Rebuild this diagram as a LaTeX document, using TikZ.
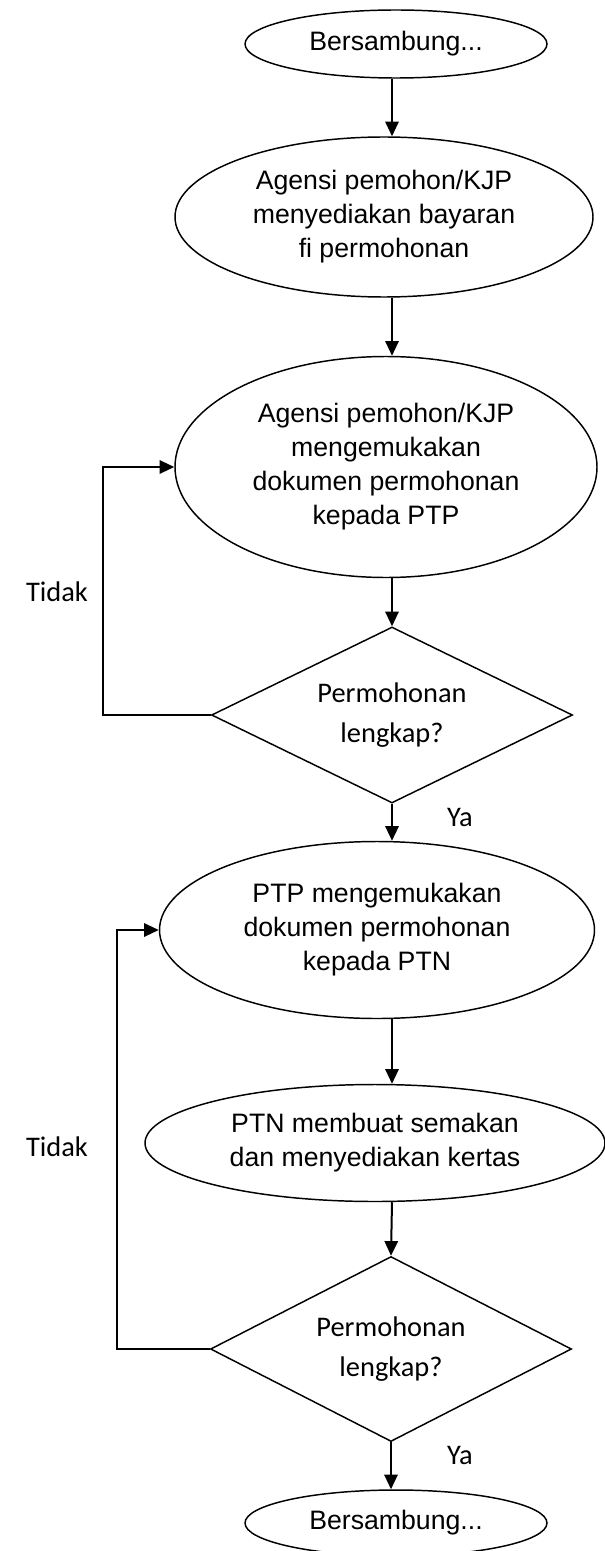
\documentclass[tikz,border=0pt]{standalone}
\usepackage{fontspec}
\setmainfont{Liberation Sans}
\newfontfamily\calibri{Carlito}
\usetikzlibrary{shapes.geometric,arrows.meta,positioning}

\begin{document}
\begin{tikzpicture}[x=0.75pt,y=-0.75pt,
  ovalstyle/.style={ellipse,draw,line width=1.1pt,inner sep=0pt,align=center,font={\fontsize{20}{25.5}\selectfont}},
  choicestyle/.style={diamond,draw,line width=1.1pt,inner sep=0pt,aspect=2,align=center,font={\calibri\fontsize{21.3}{30}\selectfont}},
  notestyle/.style={font={\calibri\fontsize{21.3}{30}\selectfont}},
  arrowstyle/.style={line width=1.5pt,-{Triangle[length=11pt,width=10pt]}}]

  \useasboundingbox (0,0) rectangle (605,1551);
  \coordinate (spine) at (392,0);
  \coordinate (back1) at (103,0);
  \coordinate (back2) at (117,0);

  \node [ovalstyle, minimum width=302*0.75pt, minimum height=68*0.75pt] (start) at (396,44) {Bersambung...};
  \node [ovalstyle, minimum width=418*0.75pt, minimum height=160*0.75pt] (pay) at (384,217) {Agensi pemohon/KJP\\menyediakan bayaran\\fi permohonan};
  \node [ovalstyle, minimum width=422*0.75pt, minimum height=221*0.75pt] (submit) at (386,467) {Agensi pemohon/KJP\\mengemukakan\\dokumen permohonan\\kepada PTP};
  \node [choicestyle, minimum width=361*0.75pt, minimum height=176*0.75pt] (check1) at (392,715) {Permohonan\\lengkap?};
  \node [ovalstyle, minimum width=435*0.75pt, minimum height=177*0.75pt] (forward) at (377,930) {PTP mengemukakan\\dokumen permohonan\\kepada PTN};
  \node [ovalstyle, minimum width=460*0.75pt, minimum height=117*0.75pt] (review) at (375,1143) {PTN membuat semakan\\dan menyediakan kertas};
  \node [choicestyle, minimum width=361*0.75pt, minimum height=185*0.75pt] (check2) at (391,1349) {Permohonan\\lengkap?};
  \node [ovalstyle, minimum width=302*0.75pt, minimum height=66*0.75pt] (finish) at (396,1523) {Bersambung...};

  \draw[arrowstyle] (start.south -| spine) -- (pay.north -| spine);
  \draw[arrowstyle] (pay.south -| spine) -- (submit.north -| spine);
  \draw[arrowstyle] (submit.south -| spine) -- (check1.north);
  \draw[arrowstyle] (check1.south) -- (forward.north -| spine);
  \draw[arrowstyle] (forward.south -| spine) -- (review.north -| spine);
  \draw[arrowstyle] (review.south -| spine) -- (check2.north);
  \draw[arrowstyle] (check2.south) -- (finish.north -| check2.south);

  % balik semula bila tidak lengkap
  \draw[arrowstyle] (check1.west) -- (check1.west -| back1) |- (submit.west);
  \draw[arrowstyle] (check2.west) -- (check2.west -| back2) |- (forward.west);

  \node [notestyle] (no1) at (57,592) {Tidak};
  \node [notestyle] (yes1) at (460,817) {Ya};
  \node [notestyle] (no2) at (57,1147) {Tidak};
  \node [notestyle] (yes2) at (460,1455) {Ya};

\end{tikzpicture}
\end{document}
